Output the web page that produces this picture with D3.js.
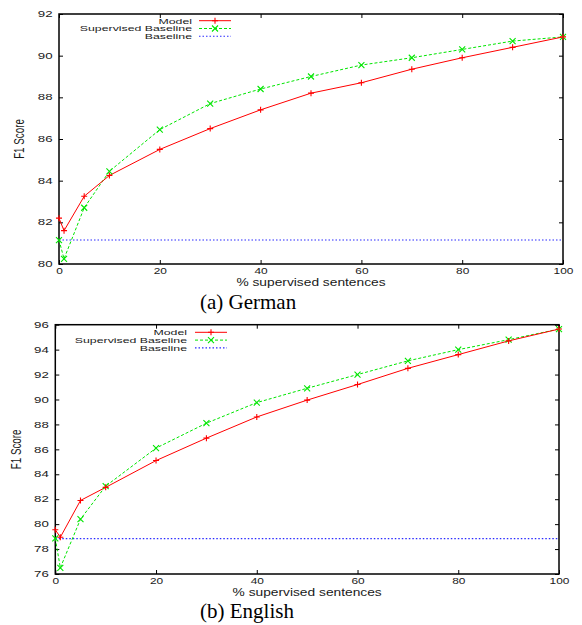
<!DOCTYPE html>
<html>
<head>
<meta charset="utf-8">
<script src="https://cdnjs.cloudflare.com/ajax/libs/d3/7.8.5/d3.min.js"></script>
<style>
    body { margin: 0; background: #fff; }
    text { font-family: "Liberation Sans", Arial, sans-serif; fill: #1a1a1a; }
    .caption { font-family: "Liberation Serif", "Times New Roman", serif; fill: #000; }
</style>
</head>
<body>
<svg id="fig" width="582" height="625"></svg>
<script>
// % of supervised sentences (x)
const pct = [0, 1, 5, 10, 20, 30, 40, 50, 60, 70, 80, 90, 100];

// (a) German
const germanModel = [82.2, 81.6, 83.25, 84.25, 85.5, 86.5, 87.4, 88.2, 88.7, 89.35, 89.9, 90.4, 90.9];
const germanSupervised = [81.15, 80.25, 82.7, 84.45, 86.45, 87.7, 88.4, 89.0, 89.55, 89.9, 90.3, 90.7, 90.9];
const germanBaseline = 81.15;

// (b) English
const englishModel = [79.55, 78.95, 81.9, 82.95, 85.1, 86.9, 88.6, 89.95, 91.2, 92.5, 93.6, 94.7, 95.65];
const englishSupervised = [78.85, 76.5, 80.4, 83.05, 86.1, 88.1, 89.75, 90.9, 92.0, 93.1, 94.0, 94.8, 95.65];
const englishBaseline = 78.84;

const xTicks = [0, 20, 40, 60, 80, 100];
const seriesNames = ['Model', 'Supervised Baseline', 'Baseline'];

const svg = d3.select('#fig');
const SX = 1.35; // the original text is stretched sideways

function stretchedText(g, x, y, str, size, anchor, sx) {
    const t = g.append('g').attr('transform', `translate(${x},${y}) scale(${sx || SX},1)`);
    return t.append('text')
        .attr('font-size', size)
        .attr('text-anchor', anchor || 'start')
        .text(str);
}

function drawPanel(opt) {
    const g = svg.append('g');
    const x = d3.scaleLinear().domain([0, 100]).range([opt.left, opt.right]);
    const y = d3.scaleLinear().domain(opt.yDomain).range([opt.bottom, opt.top]);
    const yTicks = d3.range(opt.yDomain[0], opt.yDomain[1] + 1, 2);

    // axes, ticks pointing inwards (gnuplot style)
    const ax = g.append('g').attr('transform', `translate(0,${opt.bottom})`)
        .call(d3.axisBottom(x).tickValues(xTicks).tickSize(-4).tickPadding(4));
    g.append('g').attr('transform', `translate(0,${opt.top})`)
        .call(d3.axisTop(x).tickValues(xTicks).tickSize(-4).tickFormat(''));
    const ay = g.append('g').attr('transform', `translate(${opt.left},0)`)
        .call(d3.axisLeft(y).tickValues(yTicks).tickSize(-4).tickPadding(6));
    g.append('g').attr('transform', `translate(${opt.right},0)`)
        .call(d3.axisRight(y).tickValues(yTicks).tickSize(-4).tickFormat(''));

    g.selectAll('.domain').remove();
    g.selectAll('.tick line').attr('stroke', '#000').attr('stroke-width', 1);
    ax.selectAll('text').attr('font-size', 8.5).attr('fill', '#1a1a1a')
        .attr('transform', `scale(1.4,1)`);
    ay.selectAll('text').attr('font-size', 8.3).attr('fill', '#1a1a1a')
        .attr('x', -6.5 / 1.6)
        .attr('transform', `scale(1.6,1)`);

    g.append('rect')
        .attr('x', opt.left).attr('y', opt.top)
        .attr('width', opt.right - opt.left).attr('height', opt.bottom - opt.top)
        .attr('fill', 'none').attr('stroke', '#000').attr('stroke-width', 1.5);

    const line = d3.line().x((d, i) => x(pct[i])).y(d => y(d));

    // baseline
    g.append('line')
        .attr('x1', x(0)).attr('x2', x(100))
        .attr('y1', y(opt.baseline)).attr('y2', y(opt.baseline))
        .attr('stroke', '#2a2aff').attr('stroke-width', 1.1)
        .attr('stroke-dasharray', '1.5,2');

    // supervised baseline
    g.append('path').datum(opt.supervised)
        .attr('d', line).attr('fill', 'none')
        .attr('stroke', '#00e600').attr('stroke-width', 1)
        .attr('stroke-dasharray', '3,2');

    // model
    g.append('path').datum(opt.model)
        .attr('d', line).attr('fill', 'none')
        .attr('stroke', '#ff0000').attr('stroke-width', 1);

    const plus = (sel, cx, cy) => sel.append('path')
        .attr('d', `M${cx - 3},${cy}H${cx + 3}M${cx},${cy - 3}V${cy + 3}`)
        .attr('stroke', '#ff0000').attr('stroke-width', 1.1);
    const cross = (sel, cx, cy) => sel.append('path')
        .attr('d', `M${cx - 3},${cy - 3}L${cx + 3},${cy + 3}M${cx - 3},${cy + 3}L${cx + 3},${cy - 3}`)
        .attr('stroke', '#00e600').attr('stroke-width', 1.1);

    opt.supervised.forEach((d, i) => cross(g, x(pct[i]), y(d)));
    opt.model.forEach((d, i) => plus(g, x(pct[i]), y(d)));

    // legend
    const lg = g.append('g');
    seriesNames.forEach((name, i) => {
        const ly = opt.legendY + i * 7.8;
        stretchedText(lg, opt.legendTextX, ly + 2.8, name, 7.8, 'end', 1.58);
        const l = lg.append('line')
            .attr('x1', opt.legendLine[0]).attr('x2', opt.legendLine[1])
            .attr('y1', ly).attr('y2', ly);
        const mx = (opt.legendLine[0] + opt.legendLine[1]) / 2;
        if (i === 0) {
            l.attr('stroke', '#ff0000').attr('stroke-width', 1);
            plus(lg, mx, ly);
        } else if (i === 1) {
            l.attr('stroke', '#00e600').attr('stroke-width', 1).attr('stroke-dasharray', '3,2');
            cross(lg, mx, ly);
        } else {
            l.attr('stroke', '#2a2aff').attr('stroke-width', 1.1).attr('stroke-dasharray', '1.5,2');
        }
    });

    // axis titles
    stretchedText(g, (opt.left + opt.right) / 2, opt.bottom + 22, '% supervised sentences', 10.2, 'middle');
    const yt = g.append('g')
        .attr('transform', `translate(${opt.yTitleX},${(opt.top + opt.bottom) / 2}) scale(1.5,1) rotate(-90)`);
    yt.append('text').attr('font-size', 9.8).attr('text-anchor', 'middle').text('F1 Score');

    // caption
    g.append('text').attr('class', 'caption')
        .attr('x', 200).attr('y', opt.captionY)
        .attr('font-size', 21)
        .text(opt.caption);
}

drawPanel({
    left: 59, right: 563, top: 14, bottom: 264,
    yDomain: [80, 92],
    model: germanModel, supervised: germanSupervised, baseline: germanBaseline,
    legendY: 20.7, legendTextX: 192, legendLine: [199, 231],
    yTitleX: 24,
    caption: '(a) German', captionY: 309
});

drawPanel({
    left: 55.3, right: 559, top: 324.7, bottom: 574,
    yDomain: [76, 96],
    model: englishModel, supervised: englishSupervised, baseline: englishBaseline,
    legendY: 332.3, legendTextX: 187, legendLine: [195, 227],
    yTitleX: 20.5,
    caption: '(b) English', captionY: 618
});
</script>
</body>
</html>
